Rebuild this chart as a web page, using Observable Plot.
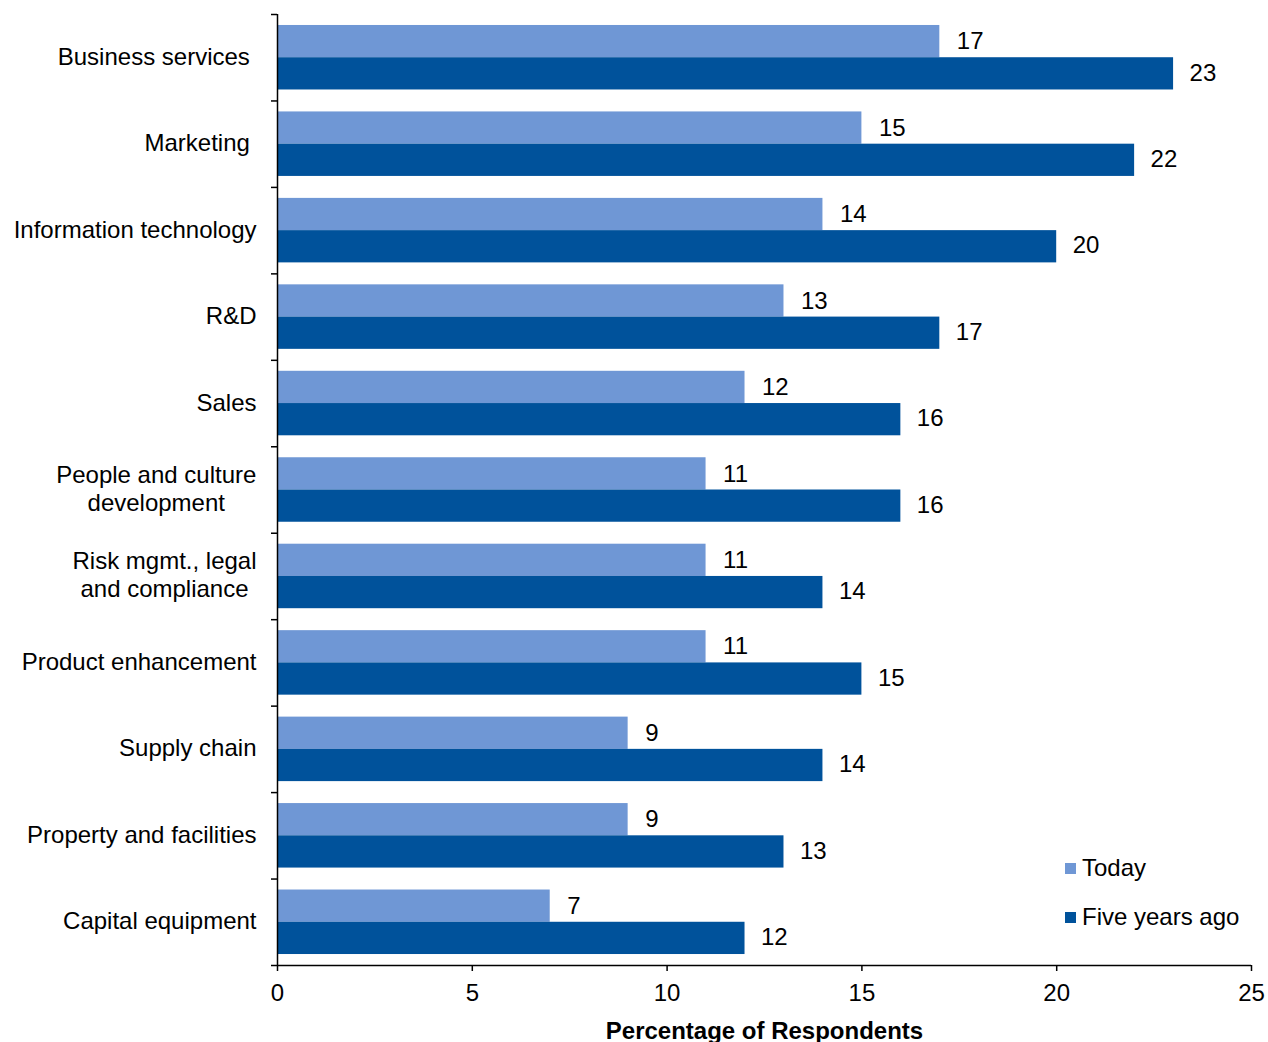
<!DOCTYPE html>
<html>
<head>
<meta charset="utf-8">
<script src="https://cdn.jsdelivr.net/npm/d3@7"></script>
<script src="https://cdn.jsdelivr.net/npm/@observablehq/plot@0.6"></script>
<style>
  html, body { margin: 0; padding: 0; background: #fff; }
  #wrap { position: relative; width: 1268px; height: 1042px; overflow: hidden; font-family: "Liberation Sans", Arial, sans-serif; }
  #wrap svg text { fill: #000; }
  g[aria-label="x-axis label"] text { font-weight: bold; }
  .legend { position: absolute; left: 1065px; font-size: 24px; color: #000; display: flex; align-items: center; line-height: 1; }
  .legend .sw { width: 11px; height: 11px; margin-right: 6px; }
</style>
</head>
<body>
<div id="wrap"></div>
<script>
const categories = [
  "Business services\u00a0",
  "Marketing\u00a0",
  "Information technology",
  "R&D",
  "Sales",
  "People and culture\ndevelopment",
  "Risk mgmt., legal\nand compliance",
  "Product enhancement",
  "Supply chain",
  "Property and facilities",
  "Capital equipment"
];
const today = [17, 15, 14, 13, 12, 11, 11, 11, 9, 9, 7];
const fiveYearsAgo = [23, 22, 20, 17, 16, 16, 14, 15, 14, 13, 12];
const xTicks = [0, 5, 10, 15, 20, 25];
const seriesNames = ["Today", "Five years ago"];
const seriesColors = ["#6f97d5", "#00529b"];

const rows = categories.map((c, i) => ({category: c, i, today: today[i], five: fiveYearsAgo[i]}));
const gap = 0.127;

const chart = Plot.plot({
  width: 1268,
  height: 1042,
  marginLeft: 277,
  marginRight: 17,
  marginTop: 14,
  marginBottom: 77,
  style: {fontFamily: '"Liberation Sans", Arial, sans-serif', fontSize: "24px", color: "#000", background: "#fff"},
  x: {domain: [0, 25]},
  y: {domain: [0, categories.length], reverse: true},
  marks: [
    Plot.rectX(rows, {x1: 0, x2: "today", y1: d => d.i + gap, y2: d => d.i + 0.5, fill: seriesColors[0]}),
    Plot.rectX(rows, {x1: 0, x2: "five", y1: d => d.i + 0.5, y2: d => d.i + 1 - gap, fill: seriesColors[1]}),
    Plot.ruleX([0], {stroke: "#000", strokeWidth: 1.5}),
    Plot.ruleY([categories.length], {stroke: "#000", strokeWidth: 1.5}),
    Plot.axisY({ticks: d3.range(categories.length + 1), tickSize: 6, tickFormat: () => "", label: null, strokeWidth: 1.5}),
    Plot.axisX({ticks: xTicks, tickSize: 6, tickPadding: 12, tickFormat: d => String(d),
      label: "Percentage of Respondents", labelAnchor: "center", labelArrow: "none", labelOffset: 73, strokeWidth: 1.5}),
    Plot.text(rows, {x: 0, y: d => d.i + 0.5, text: "category", textAnchor: "end", dx: -21, dy: -2, lineHeight: 1.17, fill: "#000"}),
    Plot.text(rows, {x: "today", y: d => d.i + (gap + 0.5) / 2, text: d => String(d.today), textAnchor: "start", dx: 17, fill: "#000"}),
    Plot.text(rows, {x: "five", y: d => d.i + (1.5 - gap) / 2, text: d => String(d.five), textAnchor: "start", dx: 16, dy: -1, fill: "#000"})
  ]
});

const wrap = document.getElementById("wrap");
wrap.appendChild(chart);

// center multi-line category labels as a block whose widest line ends at the anchor
d3.select(chart).selectAll("text").each(function() {
  const tspans = this.querySelectorAll("tspan");
  if (tspans.length > 1) {
    const w = this.getBBox().width;
    this.setAttribute("text-anchor", "middle");
    const t = this.getAttribute("transform") || "";
    this.setAttribute("transform", t + ` translate(${-w / 2},0)`);
  }
});

// legend
const legendTops = [856, 905];
seriesNames.forEach((name, k) => {
  const div = document.createElement("div");
  div.className = "legend";
  div.style.top = legendTops[k] + "px";
  div.innerHTML = `<span class="sw" style="background:${seriesColors[k]}"></span><span>${name}</span>`;
  wrap.appendChild(div);
});
</script>
</body>
</html>
